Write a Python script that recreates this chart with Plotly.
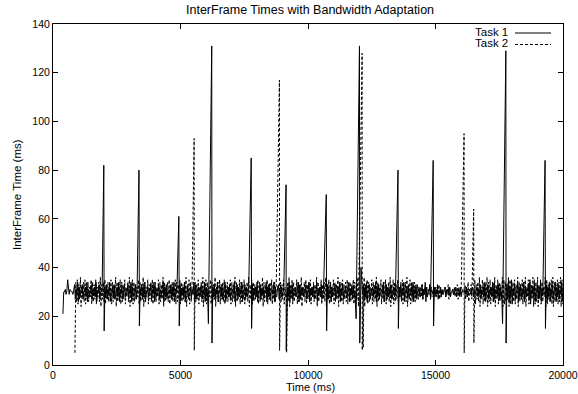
import plotly.graph_objects as go

# ---------------- data (interframe times in ms) ----------------
# Each segment starts at an anchored time (ms); following frames are placed
# at previous time + interframe value.
task1_starts = [390, 1992, 3372, 4935, 6094, 7773, 9140, 10716, 11888, 13529, 14909, 17630, 19297]
task1_segments = [
    [21, 30, 30, 31, 29, 30, 35, 30, 29, 31, 30, 30, 30, 29, 31,
     33, 27, 31, 29, 34, 26, 32, 28, 29, 31, 33, 27, 30, 30, 32, 28, 34, 26, 31, 29,
     28, 32, 33, 27, 31, 29, 32, 28, 34, 26, 30, 30, 33, 27, 29, 31, 30],
    [82, 14,
     32, 28, 33, 27, 31, 29, 34, 26, 30, 30, 32, 28, 33, 27, 29, 31, 32, 28, 34, 26,
     31, 29, 33, 27, 28, 32, 32, 28, 30, 30, 33, 27, 31, 29, 34, 26, 32, 28, 29, 31,
     33, 27, 30],
    [80, 16,
     31, 29, 33, 27, 32, 28, 34, 26, 30, 30, 32, 28, 29, 31, 33, 27, 31, 29, 34, 26,
     32, 28, 30, 30, 33, 27, 31, 29, 28, 32, 34, 26, 32, 28, 33, 27, 30, 30, 31, 29,
     33, 27, 32, 28, 34, 26, 29, 31, 30],
    [61, 16,
     33, 27, 31, 29, 32, 28, 34, 26, 30, 30, 33, 27, 29, 31, 32, 28, 31, 29, 34, 26,
     33, 27, 30, 30, 32, 28, 28, 32, 33, 27, 31, 29, 34, 26, 32, 28, 30],
    [17, 131, 9,
     32, 28, 33, 27, 31, 29, 34, 26, 30, 30, 32, 28, 33, 27, 29, 31, 34, 26, 31, 29,
     32, 28, 33, 27, 30, 30, 31, 29, 34, 26, 28, 32, 33, 27, 32, 28, 31, 29, 34, 26,
     30, 30, 33, 27, 32, 28, 29, 31],
    [85, 15,
     33, 27, 31, 29, 32, 28, 34, 26, 30, 30, 33, 27, 31, 29, 32, 28, 29, 31, 34, 26,
     32, 28, 33, 27, 30, 30, 31, 29, 34, 26, 32, 28, 28, 32, 33, 27, 31, 29, 32, 28,
     30, 30],
    [74, 6, 22,
     32, 28, 34, 26, 31, 29, 33, 27, 30, 30, 32, 28, 29, 31, 34, 26, 33, 27, 31, 29,
     32, 28, 30, 30, 33, 27, 28, 32, 34, 26, 31, 29, 32, 28, 33, 27, 30, 30, 34, 26,
     31, 29, 32, 28, 33, 27, 29, 31],
    [70, 14,
     33, 27, 31, 29, 34, 26, 32, 28, 30, 30, 33, 27, 29, 31, 32, 28, 34, 26, 31, 29,
     33, 27, 30, 30, 32, 28, 28, 32, 34, 26, 31, 29, 33, 27, 32, 28, 30],
    [19, 131, 9, 12, 40,
     31, 29, 33, 27, 32, 28, 34, 26, 30, 30, 33, 27, 29, 31, 32, 28, 31, 29, 34, 26,
     32, 28, 33, 27, 30, 30, 31, 29, 34, 26, 28, 32, 33, 27, 32, 28, 31, 29, 33, 27,
     30, 30, 32, 28, 30],
    [80, 15,
     32, 28, 33, 27, 31, 29, 34, 26, 30, 30, 32, 28, 33, 27, 29, 31, 32, 28, 34, 26,
     31, 29, 33, 27, 30, 30, 32, 28, 28, 32, 33, 27, 31, 29, 34, 26, 32, 28, 30, 30,
     33, 27],
    [84, 16,
     32, 28, 31, 29, 33, 27, 30, 30, 32, 28, 31, 29, 29, 31, 32, 28, 30, 30, 31, 29,
     32, 28, 30, 30, 31, 29, 29, 31, 32, 28, 30, 30, 31, 29, 32, 28, 29, 31, 30, 30,
     31, 29, 32, 28, 30, 30, 31, 29, 29, 31, 32, 28, 31, 29, 30, 30, 32, 28, 31, 29,
     33, 27, 31, 29, 32, 28, 34, 26, 30, 30, 33, 27, 31, 29, 32, 28, 34, 26, 33, 27,
     31, 29, 32, 28, 33, 27, 32, 28, 30],
    [17, 129, 9,
     33, 27, 34, 26, 32, 28, 35, 25, 31, 29, 33, 27, 30, 30, 34, 26, 32, 28, 33, 27,
     31, 29, 34, 26, 32, 28, 29, 31, 33, 27, 35, 25, 31, 29, 32, 28, 34, 26, 30, 30,
     33, 27, 32, 28, 34, 26, 31, 29],
    [84, 15,
     33, 27, 32, 28, 34, 26, 31, 29, 33, 27, 30, 30, 34, 26, 32, 28, 33, 27, 31, 29,
     34, 26, 32, 28],
]

task2_starts = [860, 5534, 8880, 12122, 16120, 16497]
task2_segments = [
    [5,
     34, 26, 35, 25, 33, 27, 36, 24, 32, 28, 34, 26, 35, 25, 33, 27, 34, 26, 32, 28,
     35, 25, 34, 26, 33, 27, 35, 25, 32, 28, 34, 26, 36, 24, 33, 27, 34, 26, 35, 25,
     33, 27, 34, 26, 32, 28, 35, 25, 34, 26, 33, 27, 36, 24, 34, 26, 32, 28, 35, 25,
     34, 26, 33, 27, 35, 25, 32, 28, 34, 26, 36, 24, 33, 27, 35, 25, 34, 26, 33, 27,
     32, 28, 35, 25, 34, 26, 33, 27, 36, 24, 34, 26, 32, 28, 35, 25, 33, 27, 34, 26,
     35, 25, 33, 27, 34, 26, 32, 28, 35, 25, 34, 26, 33, 27, 36, 24, 34, 26, 32, 28,
     34, 26, 35, 25, 33, 27, 34, 26, 32, 28, 35, 25, 34, 26, 33, 27, 35, 25, 34, 26,
     33, 27, 34, 26, 36, 24, 32, 28, 35, 25, 34, 26, 30],
    [93, 6,
     34, 26, 33, 27, 35, 25, 32, 28, 34, 26, 36, 24, 33, 27, 35, 25, 34, 26, 32, 28,
     35, 25, 34, 26, 33, 27, 36, 24, 32, 28, 34, 26, 35, 25, 33, 27, 34, 26, 35, 25,
     33, 27, 34, 26, 32, 28, 35, 25, 34, 26, 33, 27, 36, 24, 34, 26, 32, 28, 35, 25,
     34, 26, 33, 27, 35, 25, 32, 28, 34, 26, 36, 24, 33, 27, 35, 25, 34, 26, 33, 27,
     32, 28, 35, 25, 34, 26, 33, 27, 36, 24, 34, 26, 32, 28, 35, 25, 33, 27, 34, 26,
     35, 25, 33, 27, 34, 26, 30],
    [117, 6,
     34, 26, 33, 27, 35, 25, 32, 28, 30, 5,
     34, 26, 36, 24, 33, 27, 35, 25, 34, 26, 32, 28, 35, 25, 34, 26, 33, 27, 36, 24,
     32, 28, 34, 26, 35, 25, 33, 27, 34, 26, 35, 25, 32, 28, 34, 26, 33, 27, 36, 24,
     34, 26, 32, 28, 35, 25, 33, 27, 34, 26, 36, 24, 33, 27, 35, 25, 34, 26, 32, 28,
     35, 25, 34, 26, 33, 27, 36, 24, 32, 28, 34, 26, 35, 25, 33, 27, 34, 26, 35, 25,
     33, 27, 34, 26, 32, 28, 35, 25, 34, 26, 33, 27, 36, 24],
    [128, 6, 30, 7,
     36, 24, 33, 27, 35, 25, 34, 26, 32, 28, 35, 25, 34, 26, 33, 27, 36, 24, 34, 26,
     32, 28, 35, 25, 33, 27, 34, 26, 35, 25, 32, 28, 34, 26, 36, 24, 33, 27, 35, 25,
     34, 26, 33, 27, 35, 25, 32, 28, 34, 26, 35, 25, 33, 27, 34, 26, 36, 24, 32, 28,
     35, 25, 34, 26, 33, 27, 34, 26, 32, 28, 33, 27, 31, 29, 32, 28, 33, 27, 31, 29,
     32, 28, 30, 30, 31, 29, 33, 27, 32, 28, 31, 29, 30, 30, 32, 28, 31, 29, 33, 27,
     32, 28, 31, 29, 30, 30, 32, 28, 31, 29, 33, 27, 32, 28, 30, 30, 31, 29, 32, 28,
     31, 29, 33, 27, 32, 28, 31, 29],
    [95, 5,
     33, 27, 32, 28, 34, 26, 31, 29, 33, 27],
    [64, 9,
     35, 25, 33, 27, 34, 26, 36, 24, 32, 28, 35, 25, 34, 26, 33, 27, 36, 24, 34, 26,
     35, 25, 32, 28, 34, 26, 36, 24, 33, 27, 35, 25, 34, 26, 33, 27, 36, 24, 35, 25,
     34, 26, 33, 27, 36, 24, 35, 25, 32, 28, 34, 26, 35, 25, 33, 27, 36, 24, 34, 26,
     33, 27, 35, 25, 34, 26, 36, 24, 32, 28, 35, 25, 34, 26, 33, 27, 36, 24, 35, 25,
     34, 26, 36, 24, 33, 27, 35, 25, 34, 26, 32, 28, 36, 24, 35, 25, 33, 27, 34, 26,
     35, 25, 36, 24, 34, 26, 33, 27, 35, 25, 34, 26, 36, 24, 35, 25],
]

series_names = ["Task 1", "Task 2"]
title_text = "InterFrame Times with Bandwidth Adaptation"
x_title = "Time (ms)"
y_title = "InterFrame Time (ms)"


def build(starts, segments):
    xs, ys = [], []
    for s, seg in zip(starts, segments):
        t = s
        for i, v in enumerate(seg):
            if i > 0:
                t += v
            xs.append(t)
            ys.append(v)
    return xs, ys


x1, y1 = build(task1_starts, task1_segments)
x2, y2 = build(task2_starts, task2_segments)

FONT = "Liberation Sans, Arial, Helvetica, sans-serif"
L, R, T, B = 53, 15, 24, 29
W, H = 578, 394
PW, PH = W - L - R, H - T - B


def px(xp):
    return (xp - L) / PW


def py(yp):
    return (H - B - yp) / PH


fig = go.Figure()
fig.add_trace(go.Scatter(x=x1, y=y1, mode="lines", name=series_names[0],
                         line=dict(color="black", width=1), showlegend=False))
fig.add_trace(go.Scatter(x=x2, y=y2, mode="lines", name=series_names[1],
                         line=dict(color="black", width=1, dash="3px,2px"), showlegend=False))

axis_common = dict(showline=True, linecolor="black", linewidth=1, mirror="allticks",
                   ticks="inside", ticklen=5, tickcolor="black", showgrid=False,
                   zeroline=False, ticklabeloverflow="allow", automargin=False)

fig.update_xaxes(range=[0, 20000], tick0=0, dtick=5000, tickformat="d",
                 tickfont=dict(family=FONT, size=10.5, color="black"), **axis_common)
fig.update_yaxes(range=[0, 140], tick0=0, dtick=20,
                 tickfont=dict(family=FONT, size=10.5, color="black"), **axis_common)

annotations = [
    dict(text=title_text, xref="paper", yref="paper", x=px(310), y=py(10),
         xanchor="center", yanchor="middle", showarrow=False,
         font=dict(family=FONT, size=12.5, color="black")),
    dict(text=x_title, xref="paper", yref="paper", x=px(310), y=py(387),
         xanchor="center", yanchor="middle", showarrow=False,
         font=dict(family=FONT, size=11, color="black")),
    dict(text=y_title, xref="paper", yref="paper", x=px(17), y=py(195),
         xanchor="center", yanchor="middle", textangle=-90, showarrow=False,
         font=dict(family=FONT, size=11.5, color="black")),
]
shapes = []
legend_rows = [(32, None), (43.5, "3px,2px")]
for name, (ly, dash) in zip(series_names, legend_rows):
    annotations.append(dict(text=name, xref="paper", yref="paper",
                            x=px(510), y=py(ly),
                            xanchor="right", yanchor="middle", showarrow=False,
                            font=dict(family=FONT, size=11.5, color="black")))
    shapes.append(dict(type="line", xref="paper", yref="paper",
                       x0=px(515), x1=px(551),
                       y0=py(ly + 1), y1=py(ly + 1),
                       line=dict(color="black", width=1, dash=dash if dash else "solid")))

fig.update_layout(
    width=W, height=H,
    margin=dict(l=L, r=R, t=T, b=B, autoexpand=False),
    paper_bgcolor="white", plot_bgcolor="white",
    showlegend=False,
    annotations=annotations, shapes=shapes,
    font=dict(family=FONT, size=11, color="black"),
)

fig.write_html("out.html")
